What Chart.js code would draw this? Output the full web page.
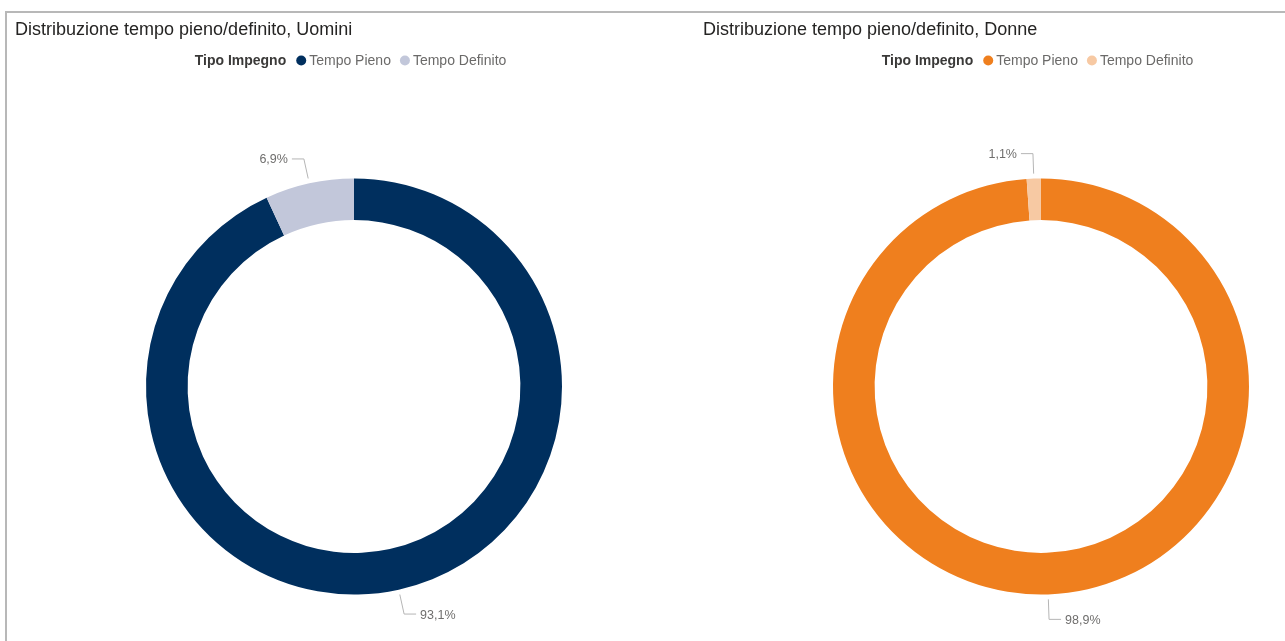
<!DOCTYPE html>
<html>
<head>
<meta charset="utf-8">
<script src="https://cdn.jsdelivr.net/npm/chart.js@4.4.1/dist/chart.umd.min.js"></script>
<style>
  html, body { margin: 0; padding: 0; background: #ffffff; width: 1285px; height: 641px; overflow: hidden; }
  #frameTop { position: absolute; left: 5px; top: 11px; width: 1280px; height: 2px; background: #b8b8b8; }
  #frameLeft { position: absolute; left: 5px; top: 11px; width: 2px; height: 630px; background: #b8b8b8; }
  canvas { position: absolute; left: 0; top: 0; pointer-events: none; }
</style>
</head>
<body>
<div id="frameTop"></div>
<div id="frameLeft"></div>
<canvas id="c1" width="1285" height="641"></canvas>
<canvas id="c2" width="1285" height="641"></canvas>
<script>
// ---- data ----
const categories = ['Tempo Pieno', 'Tempo Definito'];
const legendTitle = 'Tipo Impegno';
const uominiTitle = 'Distribuzione tempo pieno/definito, Uomini';
const donneTitle = 'Distribuzione tempo pieno/definito, Donne';
const uominiValues = [93.1, 6.9];
const donneValues = [98.9, 1.1];
const uominiColors = ['#002F5E', '#C2C7DA'];
const donneColors = ['#EF7F1E', '#F7C9A3'];

const FONT = '"Liberation Sans", Arial, sans-serif';
const fmt = v => v.toFixed(1).replace('.', ',') + '%';

const decorPlugin = {
  id: 'decor',
  afterDatasetsDraw(chart, args, opts) {
    const ctx = chart.ctx;
    ctx.save();
    // title
    ctx.font = '18px ' + FONT;
    ctx.fillStyle = '#252423';
    ctx.textAlign = 'left';
    ctx.textBaseline = 'alphabetic';
    ctx.fillText(opts.title, opts.titleX, 35);

    // legend
    const labels = chart.data.labels;
    const colors = chart.data.datasets[0].backgroundColor;
    ctx.font = 'bold 14px ' + FONT;
    const tw = ctx.measureText(legendTitle).width;
    ctx.font = '14px ' + FONT;
    const widths = labels.map(l => ctx.measureText(l).width);
    const r = 5;
    let total = tw;
    widths.forEach((w, i) => { total += (i === 0 ? 10 : 9) + 2 * r + 3 + w; });
    let x = opts.legendCenter - total / 2;
    const by = 64.5;
    ctx.font = 'bold 14px ' + FONT;
    ctx.fillStyle = '#3a3938';
    ctx.fillText(legendTitle, x, by);
    x += tw;
    ctx.font = '14px ' + FONT;
    labels.forEach((l, i) => {
      x += (i === 0 ? 10 : 9);
      ctx.beginPath();
      ctx.fillStyle = colors[i];
      ctx.arc(x + r, 60.5, r, 0, Math.PI * 2);
      ctx.fill();
      x += 2 * r + 3;
      ctx.fillStyle = '#6b6a69';
      ctx.fillText(l, x, by);
      x += widths[i];
    });

    // data labels with leader lines
    const meta = chart.getDatasetMeta(0);
    const data = chart.data.datasets[0].data;
    ctx.font = '12.5px ' + FONT;
    meta.data.forEach((arc, i) => {
      const p = arc.getProps(['x', 'y', 'startAngle', 'endAngle', 'outerRadius'], true);
      const mid = (p.startAngle + p.endAngle) / 2;
      const dx = Math.cos(mid), dy = Math.sin(mid);
      const x1 = p.x + dx * (p.outerRadius + 5), y1 = p.y + dy * (p.outerRadius + 5);
      const x2 = p.x + dx * (p.outerRadius + 25), y2 = p.y + dy * (p.outerRadius + 25);
      const s = dx < 0 ? -1 : 1;
      const x3 = x2 + s * 12;
      ctx.beginPath();
      ctx.strokeStyle = '#b5b5b5';
      ctx.lineWidth = 1;
      ctx.moveTo(x1, y1);
      ctx.lineTo(x2, y2);
      ctx.lineTo(x3, y2);
      ctx.stroke();
      ctx.fillStyle = '#6f6e6d';
      ctx.textAlign = s < 0 ? 'right' : 'left';
      ctx.textBaseline = 'middle';
      ctx.fillText(fmt(data[i]), x3 + s * 4, y2 + 1);
    });
    ctx.restore();
  }
};

function makeChart(id, values, colors, title, pad, titleX, legendCenter) {
  return new Chart(document.getElementById(id), {
    type: 'doughnut',
    data: {
      labels: categories,
      datasets: [{ data: values, backgroundColor: colors, borderWidth: 0, hoverOffset: 0 }]
    },
    options: {
      responsive: false,
      animation: false,
      devicePixelRatio: 1,
      cutout: '80%',
      layout: { padding: pad },
      events: [],
      plugins: {
        legend: { display: false },
        tooltip: { enabled: false },
        decor: { title: title, titleX: titleX, legendCenter: legendCenter }
      }
    },
    plugins: [decorPlugin]
  });
}

makeChart('c1', uominiValues, uominiColors, uominiTitle,
  { left: 146, right: 723, top: 178.5, bottom: 46.5 }, 15, 350.5);
makeChart('c2', donneValues, donneColors, donneTitle,
  { left: 833, right: 36, top: 178.5, bottom: 46.5 }, 703, 1037.5);
</script>
</body>
</html>
